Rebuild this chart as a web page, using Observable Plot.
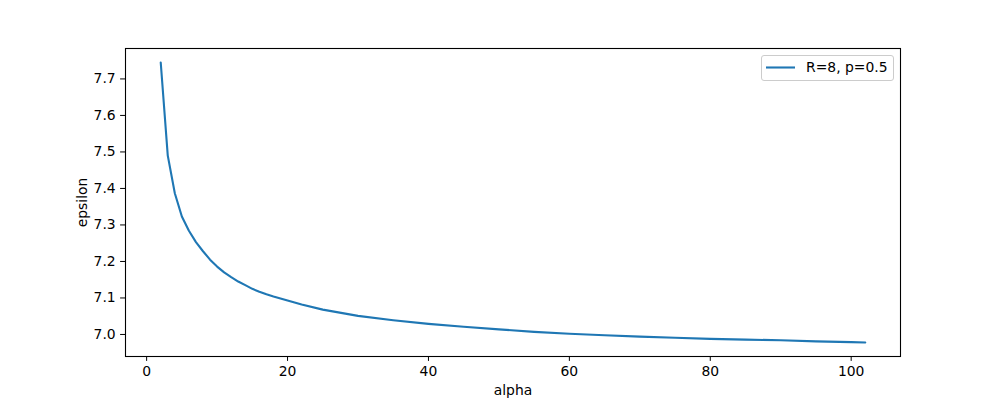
<!DOCTYPE html>
<html><head><meta charset="utf-8">
<script src="https://cdn.jsdelivr.net/npm/d3@7"></script>
<script src="https://cdn.jsdelivr.net/npm/@observablehq/plot@0.6"></script>
<style>body{margin:0;background:#fff}</style>
</head><body><div id="chart"></div>
<script>
const alpha = [2,3,4,5,6,7,8,9,10,11,12,13,14,15,16,17,18,20,22,25,30,35,40,45,50,55,60,65,70,75,80,85,90,95,100,102];
const epsilon = [7.745,7.490,7.387,7.323,7.284,7.253,7.228,7.205,7.186,7.170,7.157,7.145,7.135,7.125,7.117,7.110,7.104,7.093,7.082,7.068,7.051,7.039,7.029,7.021,7.014,7.007,7.002,6.998,6.994,6.991,6.988,6.986,6.984,6.981,6.979,6.978];
const xTicks = [0,20,40,60,80,100];
const yTicks = [7.0,7.1,7.2,7.3,7.4,7.5,7.6,7.7];
const seriesLabel = "R=8, p=0.5";
const xLabel = "alpha";
const yLabel = "epsilon";

const data = alpha.map((a,i)=>({alpha:a, epsilon:epsilon[i]}));
const [xmin,xmax] = d3.extent(alpha); const xpad = 0.05*(xmax-xmin);
const [ymin,ymax] = d3.extent(epsilon); const ypad = 0.05*(ymax-ymin);

const chart = Plot.plot({
  width:1000, height:400,
  marginLeft:125, marginRight:100, marginTop:48, marginBottom:44,
  style:{fontFamily:"'DejaVu Sans', sans-serif", fontSize:"13.9px", color:"black", background:"white"},
  x:{domain:[xmin-xpad, xmax+xpad]},
  y:{domain:[ymin-ypad, ymax+ypad]},
  marks:[
    Plot.axisX({ticks:xTicks, tickSize:4.9, tickPadding:4.9, tickFormat:d=>String(d), label:xLabel, labelAnchor:"center", labelArrow:"none", labelOffset:38}),
    Plot.axisY({ticks:yTicks, tickSize:4.9, tickPadding:4.9, tickFormat:d=>d.toFixed(1), label:yLabel, labelAnchor:"center", labelArrow:"none", labelOffset:48}),
    Plot.line(data, {x:"alpha", y:"epsilon", stroke:"#1f77b4", strokeWidth:2.1}),
    Plot.frame({stroke:"black", strokeWidth:1.1})
  ]
});
document.getElementById("chart").appendChild(chart);

// legend (upper right, inside the axes)
const svg = d3.select(chart);
const g = svg.append("g").attr("font-family","'DejaVu Sans', sans-serif").attr("font-size","13.9px").attr("text-anchor","start");
g.append("rect").attr("x",761.5).attr("y",55.5).attr("width",132).attr("height",25).attr("rx",2.5)
  .attr("fill","white").attr("fill-opacity",0.8).attr("stroke","#cccccc").attr("stroke-width",1);
g.append("line").attr("x1",766).attr("x2",795).attr("y1",67.5).attr("y2",67.5)
  .attr("stroke","#1f77b4").attr("stroke-width",2.1);
g.append("text").attr("x",806).attr("y",67.5).attr("dy","0.35em").attr("text-anchor","start").attr("fill","black").text(seriesLabel);
</script>
</body></html>
